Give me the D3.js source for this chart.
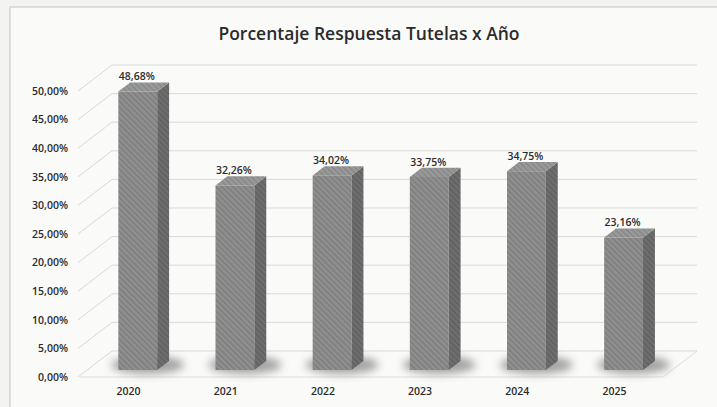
<!DOCTYPE html>
<meta charset="utf-8" />
<head>
  <style>
    body { margin: 0; background: #f3f3f2; }
    text { font-family: "Open Sans", "Noto Sans", sans-serif; fill: #2b2b2b; }
    .tick text { font-size: 10.5px; font-weight: 600; }
  </style>
  <script src="https://d3js.org/d3.v7.min.js"></script>
</head>
<body>
  <svg width="717" height="407"></svg>
  <script>
    // data
    const years = ["2020", "2021", "2022", "2023", "2024", "2025"];
    const values = [48.68, 32.26, 34.02, 33.75, 34.75, 23.16];
    const yTicks = [0, 5, 10, 15, 20, 25, 30, 35, 40, 45, 50];
    const title = "Porcentaje Respuesta Tutelas x Año";

    const svg = d3.select("svg");

    // front edge of the floor and the 3d depth of the walls
    const floorLeft = 80, floorRight = 663, floorY = 377;
    const wallDx = 34, wallDy = -26;
    // bars sit between these depth fractions
    const barFront = 0.27, barBack = 0.62;

    const es = d3.formatLocale({ decimal: ",", thousands: ".", grouping: [3], currency: ["", "€"] });
    const pct = v => es.format(".2f")(v) + "%";

    const x = d3.scaleBand().domain(years).range([floorLeft, floorRight])
      .paddingInner(0.6).paddingOuter(0.3);
    const y = d3.scaleLinear().domain([0, 50]).range([floorY, 91]);

    // chart frame
    svg.append("rect")
      .attr("x", 10).attr("y", 7).attr("width", 720).attr("height", 420)
      .attr("fill", "#fafaf9").attr("stroke", "#c4c4c4");

    const defs = svg.append("defs");
    function hatch(id, base, line) {
      const p = defs.append("pattern").attr("id", id)
        .attr("patternUnits", "userSpaceOnUse").attr("width", 4).attr("height", 4)
        .attr("patternTransform", "rotate(-45)");
      p.append("rect").attr("width", 4).attr("height", 4).attr("fill", base);
      p.append("rect").attr("width", 1.3).attr("height", 4).attr("fill", line);
    }
    hatch("front", "#8f8f8f", "#7b7b7b");
    hatch("side", "#6e6e6e", "#5e5e5e");
    hatch("top", "#999", "#858585");
    defs.append("filter").attr("id", "blur").attr("x", "-50%").attr("y", "-50%")
      .attr("width", "200%").attr("height", "200%")
      .append("feGaussianBlur").attr("stdDeviation", 4);

    const g = svg.append("g");

    // back wall gridlines and side wall diagonals
    g.selectAll(".grid").data(yTicks).enter().append("path")
      .attr("fill", "none").attr("stroke", "#d9d9d9").attr("stroke-width", 1)
      .attr("d", d => "M" + (floorLeft - 2) + "," + y(d) +
        "L" + (floorLeft - 2 + wallDx) + "," + (y(d) + wallDy) +
        "L" + (floorRight + wallDx) + "," + (y(d) + wallDy));

    // floor outline
    g.append("path").attr("fill", "none").attr("stroke", "#dedede")
      .attr("d", "M" + floorLeft + "," + floorY + "L" + floorRight + "," + floorY +
        "L" + (floorRight + wallDx) + "," + (floorY + wallDy));

    g.append("g")
      .attr("transform", "translate(70,0)")
      .call(d3.axisLeft(y).tickValues(yTicks).tickFormat(pct).tickSize(0).tickPadding(2))
      .call(a => a.select(".domain").remove());

    g.append("g")
      .attr("transform", "translate(0," + floorY + ")")
      .call(d3.axisBottom(x).tickSize(0).tickPadding(11))
      .call(a => a.select(".domain").remove());

    const fx = wallDx * barFront, fy = wallDy * barFront;
    const dx = wallDx * (barBack - barFront), dy = wallDy * (barBack - barFront);
    const bw = x.bandwidth();

    const data = years.map((yr, i) => ({ year: yr, value: values[i] }));

    const bars = g.selectAll(".bar").data(data).enter().append("g").attr("class", "bar");

    // soft shadow on the floor
    bars.append("ellipse")
      .attr("cx", d => x(d.year) + fx + bw / 2 + 10)
      .attr("cy", floorY + fy - 5)
      .attr("rx", bw / 2 + 17).attr("ry", 9)
      .attr("fill", "#5a5a5a").attr("opacity", 0.55)
      .attr("filter", "url(#blur)");

    bars.append("rect")
      .attr("x", d => x(d.year) + fx)
      .attr("y", d => y(d.value) + fy)
      .attr("width", bw)
      .attr("height", d => y(0) - y(d.value))
      .attr("fill", "url(#front)");

    bars.append("path")
      .attr("fill", "url(#side)")
      .attr("d", d => {
        const x0 = x(d.year) + fx + bw, t = y(d.value) + fy, b = y(0) + fy;
        return "M" + x0 + "," + t + "L" + (x0 + dx) + "," + (t + dy) +
          "L" + (x0 + dx) + "," + (b + dy) + "L" + x0 + "," + b + "Z";
      });

    bars.append("path")
      .attr("fill", "url(#top)")
      .attr("d", d => {
        const x0 = x(d.year) + fx, t = y(d.value) + fy;
        return "M" + x0 + "," + t + "L" + (x0 + bw) + "," + t +
          "L" + (x0 + bw + dx) + "," + (t + dy) + "L" + (x0 + dx) + "," + (t + dy) + "Z";
      });

    bars.append("text")
      .attr("x", d => x(d.year) + fx + bw / 2 - 1)
      .attr("y", d => y(d.value) + fy + dy - 2)
      .attr("text-anchor", "middle")
      .style("font-size", "10.5px").style("font-weight", 600)
      .text(d => pct(d.value));

    svg.append("text")
      .attr("x", 369).attr("y", 40)
      .attr("text-anchor", "middle")
      .style("font-size", "17.5px").style("font-weight", 600)
      .text(title);
  </script>
</body>
